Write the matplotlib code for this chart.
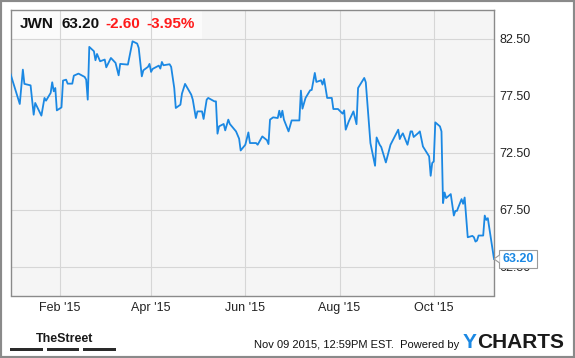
import pandas as pd
import matplotlib
matplotlib.use('Agg')
import matplotlib.pyplot as plt
import matplotlib.dates as mdates
from matplotlib.patches import Rectangle, Polygon

plt.rcParams['font.family'] = ['Liberation Sans', 'DejaVu Sans']

ticker = 'JWN'
last_price = '63.20'
change = '-2.60'
change_pct = '-3.95%'
stamp = 'Nov 09 2015, 12:59PM EST.  Powered by'

dates = ['2014-12-31', '2015-01-06', '2015-01-08', '2015-01-09', '2015-01-13', '2015-01-15', '2015-01-16',
         '2015-01-20', '2015-01-22', '2015-01-23', '2015-01-26', '2015-01-27', '2015-01-28', '2015-01-29',
         '2015-01-30', '2015-02-02', '2015-02-03', '2015-02-05', '2015-02-06', '2015-02-09', '2015-02-10',
         '2015-02-13', '2015-02-17', '2015-02-18', '2015-02-19', '2015-02-20', '2015-02-23', '2015-02-24',
         '2015-02-25', '2015-02-27', '2015-03-02', '2015-03-03', '2015-03-06', '2015-03-09', '2015-03-11',
         '2015-03-12', '2015-03-17', '2015-03-20', '2015-03-23', '2015-03-24', '2015-03-26', '2015-03-27',
         '2015-03-30', '2015-03-31', '2015-04-01', '2015-04-02', '2015-04-06', '2015-04-07', '2015-04-08',
         '2015-04-09', '2015-04-13', '2015-04-14', '2015-04-16', '2015-04-17', '2015-04-20', '2015-04-21',
         '2015-04-23', '2015-04-27', '2015-04-28', '2015-04-30', '2015-05-01', '2015-05-04', '2015-05-05',
         '2015-05-07', '2015-05-08', '2015-05-12', '2015-05-13', '2015-05-14', '2015-05-15', '2015-05-18',
         '2015-05-19', '2015-05-21', '2015-05-22', '2015-05-26', '2015-05-28', '2015-05-29', '2015-06-01',
         '2015-06-03', '2015-06-04', '2015-06-08', '2015-06-09', '2015-06-12', '2015-06-15', '2015-06-16',
         '2015-06-17', '2015-06-19', '2015-06-22', '2015-06-23', '2015-06-24', '2015-06-25', '2015-06-26',
         '2015-06-29', '2015-07-01', '2015-07-06', '2015-07-07', '2015-07-08', '2015-07-10', '2015-07-13',
         '2015-07-14', '2015-07-16', '2015-07-17', '2015-07-20', '2015-07-21', '2015-07-22', '2015-07-24',
         '2015-07-27', '2015-07-28', '2015-07-31', '2015-08-03', '2015-08-04', '2015-08-05', '2015-08-07',
         '2015-08-10', '2015-08-12', '2015-08-13', '2015-08-17', '2015-08-18', '2015-08-20', '2015-08-21',
         '2015-08-24', '2015-08-25', '2015-08-27', '2015-08-28', '2015-08-31', '2015-09-03', '2015-09-08',
         '2015-09-09', '2015-09-10', '2015-09-11', '2015-09-14', '2015-09-16', '2015-09-17', '2015-09-18',
         '2015-09-21', '2015-09-22', '2015-09-23', '2015-09-24', '2015-09-28', '2015-09-29', '2015-09-30',
         '2015-10-01', '2015-10-02', '2015-10-05', '2015-10-06', '2015-10-07', '2015-10-08', '2015-10-09',
         '2015-10-12', '2015-10-14', '2015-10-15', '2015-10-16', '2015-10-19', '2015-10-20', '2015-10-21',
         '2015-10-23', '2015-10-26', '2015-10-27', '2015-10-28', '2015-10-29', '2015-10-30', '2015-11-02',
         '2015-11-03', '2015-11-04', '2015-11-05', '2015-11-09']

prices = [79.40, 76.77, 79.78, 78.53, 78.40, 75.83, 76.86,
          75.75, 77.30, 77.06, 77.74, 78.67, 77.88, 78.17,
          76.21, 76.47, 78.82, 78.90, 78.55, 78.55, 79.25,
          79.43, 79.14, 78.90, 77.15, 81.77, 81.39, 80.60,
          81.15, 80.51, 80.66, 79.98, 80.80, 80.37, 79.28,
          80.28, 80.22, 82.26, 82.06, 81.68, 79.19, 79.72,
          80.02, 80.28, 79.58, 79.84, 80.13, 79.87, 80.45,
          80.16, 80.25, 80.02, 78.17, 76.42, 76.71, 77.68,
          78.53, 77.59, 77.15, 75.54, 76.12, 76.12, 75.46,
          77.15, 77.30, 77.00, 77.00, 74.17, 74.81, 75.02,
          74.46, 75.40, 75.02, 74.37, 73.73, 72.70, 73.20,
          74.28, 73.35, 73.35, 73.20, 73.93, 73.60, 73.26,
          75.40, 75.60, 75.54, 76.18, 75.60, 76.18, 75.40,
          74.37, 75.33, 75.33, 77.94, 76.36, 77.30, 77.97,
          78.00, 79.49, 78.70, 78.84, 78.47, 78.96, 77.30,
          77.30, 76.33, 76.33, 75.92, 76.21, 74.52, 75.25,
          76.12, 75.00, 78.17, 79.05, 78.67, 75.10, 73.35,
          71.36, 73.84, 73.20, 73.00, 71.65, 73.20, 74.52,
          73.70, 74.00, 74.20, 73.20, 74.37, 74.37, 73.88,
          74.23, 74.37, 73.70, 73.05, 72.18, 70.48, 71.60,
          71.74, 75.16, 74.81, 74.37, 68.09, 69.02, 68.53,
          68.88, 67.00, 67.41, 67.41, 68.44, 68.03, 68.58,
          65.10, 65.22, 65.10, 64.72, 64.81, 65.25, 65.25,
          67.00, 66.62, 66.77, 63.20]

x_ticks = ['2015-02-01', '2015-04-01', '2015-06-01', '2015-08-01', '2015-10-01']
x_labels = ["Feb '15", "Apr '15", "Jun '15", "Aug '15", "Oct '15"]
y_ticks = [62.5, 67.5, 72.5, 77.5, 82.5]

W, H = 575, 358


def fx(px):
    return px / W


def fy(py):
    # pixel measured from top
    return 1 - py / H


dt = pd.to_datetime(dates)

fig = plt.figure(figsize=(W / 100, H / 100), dpi=100)
fig.patch.set_facecolor('white')
ax = fig.add_axes([fx(10.5), fy(295.5), fx(494) - fx(10.5), fy(10) - fy(295.5)])
ax.set_facecolor('#f5f5f5')

ax.plot(dt, prices, color='#1b88e3', lw=1.3, zorder=3)

ax.set_xlim(pd.Timestamp('2014-12-31'), pd.Timestamp('2015-11-09'))
ax.set_ylim(60, 85)

ax.set_xticks(pd.to_datetime(x_ticks))
ax.set_xticklabels(x_labels, fontsize=9, color='#222222')
ax.set_yticks(y_ticks)
ax.set_yticklabels([f'{v:.2f}' for v in y_ticks], fontsize=9, color='#222222')
ax.yaxis.tick_right()
ax.tick_params(axis='y', length=0, pad=4)
ax.tick_params(axis='x', length=0, pad=5)

ax.set_axisbelow(True)
ax.grid(True, color='#d6d6d6', lw=0.8)
for s in ax.spines.values():
    s.set_color('#8a8a8a')
    s.set_linewidth(1)

# header box with quote
ax.add_patch(Rectangle((fx(10.5), fy(38.5)), fx(202) - fx(10.5), fy(10) - fy(38.5),
                       transform=fig.transFigure, facecolor='#fbfbfb', edgecolor='none', zorder=0.2))
hy = fy(24)
fig.text(fx(20), hy, ticker, fontsize=11, fontweight='bold', color='#111111', va='center')
fig.text(fx(61), hy, last_price, fontsize=11, fontweight='bold', color='#111111', va='center')
fig.text(fx(105), hy, change, fontsize=11, fontweight='bold', color='#ff1a1a', va='center')
fig.text(fx(146), hy, change_pct, fontsize=11, fontweight='bold', color='#ff1a1a', va='center')

# last price callout
fig.canvas.draw()
tx, ty = ax.transData.transform((mdates.date2num(dt[-1]), prices[-1]))
fig.add_artist(Rectangle((tx + 5, ty - 9), 38, 18, transform=None, facecolor='white',
                         edgecolor='#9a9a9a', lw=0.8, zorder=5))
fig.add_artist(Polygon([(tx + 5.6, ty + 4), (tx, ty), (tx + 5.6, ty - 4)], closed=False, transform=None,
                       facecolor='white', edgecolor='#9a9a9a', lw=0.8, zorder=6))
fig.text((tx + 24) / W, ty / H, last_price, fontsize=9, fontweight='bold',
         color='#1b88e3', ha='center', va='center', zorder=7)

# footer
fig.text(fx(36), fy(341.7), 'TheStreet', fontsize=9, fontweight='bold', color='#1a1a1a', va='baseline')
for x0, x1 in [(10, 42.5), (46.5, 79), (83, 115.5)]:
    fig.add_artist(Rectangle((fx(x0), fy(350.5)), fx(x1) - fx(x0), fy(347.5) - fy(350.5),
                             transform=fig.transFigure, facecolor='#2a2a2a', edgecolor='none'))
fig.text(fx(459), fy(348.3), stamp, fontsize=8, color='#111111', ha='right', va='baseline')
fig.text(fx(463), fy(348.3), 'Y', fontsize=15, fontweight='bold', color='#1b88e3', va='baseline')
fig.text(fx(477), fy(348.3), 'CHARTS', fontsize=15, fontweight='bold', color='#1a1a1a', va='baseline')

# outer frame
fig.add_artist(Rectangle((0, 0), 1, 1, transform=fig.transFigure, facecolor='none',
                         edgecolor='#8a8a8a', lw=3))

fig.savefig('out.png', dpi=100)
